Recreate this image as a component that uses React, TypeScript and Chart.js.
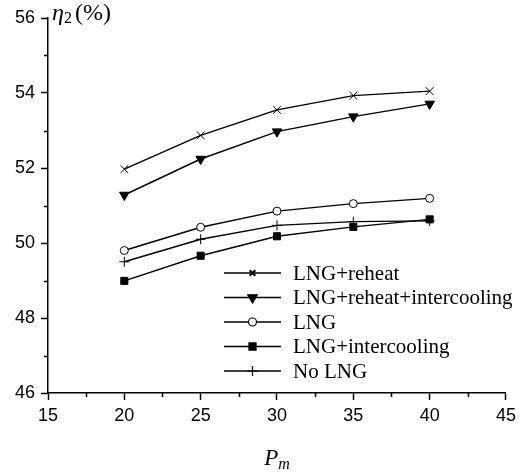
import { useEffect, useRef } from 'react';
import { Chart, registerables } from 'chart.js';
import { drawPoint } from 'chart.js/helpers';

Chart.register(...registerables);

const pressures = [20, 25, 30, 35, 40];
const lngReheat = [51.97, 52.87, 53.55, 53.93, 54.05];
const lngReheatIntercooling = [51.28, 52.24, 52.97, 53.37, 53.71];
const lngOnly = [49.8, 50.42, 50.85, 51.05, 51.19];
const lngIntercooling = [48.99, 49.66, 50.18, 50.43, 50.63];
const noLng = [49.5, 50.1, 50.47, 50.57, 50.59];
const seriesNames = ['LNG+reheat', 'LNG+reheat+intercooling', 'LNG', 'LNG+intercooling', 'No LNG'];
const xMinorTicks = [17.5, 22.5, 27.5, 32.5, 37.5, 42.5];
const yMinorTicks = [47, 49, 51, 53, 55];

const toPoints = (vals: number[]) => vals.map((y, i) => ({ x: pressures[i], y }));

const minorTicksPlugin = {
  id: 'minorTicks',
  afterDraw(chart: any) {
    const { ctx, chartArea, scales } = chart;
    ctx.save();
    ctx.strokeStyle = '#000';
    ctx.lineWidth = 1.5;
    ctx.beginPath();
    yMinorTicks.forEach((v) => {
      const py = Math.round(scales.y.getPixelForValue(v)) + 0.5;
      ctx.moveTo(chartArea.left - 4, py);
      ctx.lineTo(chartArea.left, py);
    });
    xMinorTicks.forEach((v) => {
      const px = Math.round(scales.x.getPixelForValue(v)) + 0.5;
      ctx.moveTo(px, chartArea.bottom);
      ctx.lineTo(px, chartArea.bottom + 4);
    });
    ctx.stroke();
    ctx.restore();
  },
};

const titlesPlugin = {
  id: 'titles',
  afterDraw(chart: any) {
    const { ctx, chartArea } = chart;
    ctx.save();
    ctx.fillStyle = '#000';
    ctx.textBaseline = 'alphabetic';
    ctx.textAlign = 'left';
    // y title
    let x = chartArea.left + 4;
    const yb = chartArea.top + 2;
    ctx.font = 'italic 24px "Liberation Serif"';
    ctx.fillText('η', x, yb);
    x += ctx.measureText('η').width;
    ctx.font = '16px "Liberation Serif"';
    ctx.fillText('2', x, yb + 3);
    x += ctx.measureText('2').width + 3;
    ctx.font = '24px "Liberation Serif"';
    ctx.fillText('(%)', x, yb);
    // x title
    const cx = (chartArea.left + chartArea.right) / 2;
    ctx.font = 'italic 23px "Liberation Serif"';
    const pw = ctx.measureText('P').width;
    ctx.font = 'italic 16px "Liberation Serif"';
    const mw = ctx.measureText('m').width;
    const startX = cx - (pw + mw) / 2;
    const xb = chartArea.bottom + 72;
    ctx.font = 'italic 23px "Liberation Serif"';
    ctx.fillText('P', startX, xb);
    ctx.font = 'italic 16px "Liberation Serif"';
    ctx.fillText('m', startX + pw, xb + 4);
    ctx.restore();
  },
};

const legendPlugin = {
  id: 'innerLegend',
  afterDraw(chart: any) {
    const { ctx, chartArea } = chart;
    ctx.save();
    const lineStart = chartArea.left + 176;
    const lineEnd = chartArea.left + 233;
    const textX = chartArea.left + 245;
    const firstY = chartArea.top + 255;
    const rowGap = 24.5;
    chart.data.datasets.forEach((ds: any, i: number) => {
      const y = firstY + i * rowGap;
      ctx.strokeStyle = '#000';
      ctx.lineWidth = 1.5;
      ctx.beginPath();
      ctx.moveTo(lineStart, y);
      ctx.lineTo(lineEnd, y);
      ctx.stroke();
      ctx.fillStyle = ds.pointBackgroundColor;
      ctx.strokeStyle = '#000';
      ctx.lineWidth = ds.legendBorder ?? 1.2;
      drawPoint(ctx, {
        pointStyle: ds.pointStyle,
        rotation: ds.pointRotation || 0,
        radius: ds.legendRadius,
        borderWidth: ds.legendBorder ?? 1.2,
      }, (lineStart + lineEnd) / 2, y);
      ctx.fillStyle = '#000';
      ctx.font = '21px "Liberation Serif"';
      ctx.textBaseline = 'middle';
      ctx.textAlign = 'left';
      ctx.fillText(ds.label, textX, y + 1);
    });
    ctx.restore();
  },
};

export default function App() {
  const canvasRef = useRef<HTMLCanvasElement | null>(null);

  useEffect(() => {
    if (!canvasRef.current) return;
    const common = {
      borderColor: '#000',
      borderWidth: 1.5,
      pointBorderColor: '#000',
      showLine: true,
    };
    const chart = new Chart(canvasRef.current, {
      type: 'scatter',
      data: {
        datasets: [
          {
            ...common,
            label: seriesNames[0],
            data: toPoints(lngReheat),
            pointStyle: 'crossRot',
            pointRadius: 5.5,
            pointBorderWidth: 1,
            pointBackgroundColor: '#000',
            legendRadius: 4,
            legendBorder: 2,
          },
          {
            ...common,
            label: seriesNames[1],
            data: toPoints(lngReheatIntercooling),
            pointStyle: 'triangle',
            pointRotation: 180,
            pointRadius: 5.5,
            pointBorderWidth: 1,
            pointBackgroundColor: '#000',
            legendRadius: 5.5,
          },
          {
            ...common,
            label: seriesNames[2],
            data: toPoints(lngOnly),
            pointStyle: 'circle',
            pointRadius: 4,
            pointBorderWidth: 1,
            pointBackgroundColor: '#fff',
            legendRadius: 4,
          },
          {
            ...common,
            label: seriesNames[3],
            data: toPoints(lngIntercooling),
            pointStyle: 'rect',
            pointRadius: 5,
            pointBorderWidth: 1,
            pointBackgroundColor: '#000',
            legendRadius: 5,
          },
          {
            ...common,
            label: seriesNames[4],
            data: toPoints(noLng),
            pointStyle: 'cross',
            pointRadius: 5,
            pointBorderWidth: 1,
            pointBackgroundColor: '#000',
            legendRadius: 5,
          },
        ] as any,
      },
      options: {
        animation: false,
        responsive: false,
        maintainAspectRatio: false,
        layout: { padding: { top: 18, right: 15, left: 0, bottom: 0 } },
        plugins: {
          legend: { display: false },
          tooltip: { enabled: false },
        },
        scales: {
          x: {
            type: 'linear',
            min: 15,
            max: 45,
            afterFit: (s: any) => { s.height = 83; },
            border: { display: true, color: '#000', width: 1.5 },
            grid: { drawOnChartArea: false, drawTicks: true, tickLength: 7, tickColor: '#000', tickWidth: 1.5 },
            ticks: { stepSize: 5, color: '#000', padding: 5, font: { family: '"Liberation Sans"', size: 18 } },
          },
          y: {
            type: 'linear',
            min: 46,
            max: 56,
            afterFit: (s: any) => { s.width = 48; },
            border: { display: true, color: '#000', width: 1.5 },
            grid: { drawOnChartArea: false, drawTicks: true, tickLength: 7, tickColor: '#000', tickWidth: 1.5 },
            ticks: { stepSize: 2, color: '#000', padding: 6, font: { family: '"Liberation Sans"', size: 18 } },
          },
        },
      } as any,
      plugins: [minorTicksPlugin, titlesPlugin, legendPlugin],
    });
    return () => chart.destroy();
  }, []);

  return (
    <div style={{ position: 'fixed', left: 0, top: 0, width: 521, height: 476, background: '#fff' }}>
      <canvas ref={canvasRef} width={521} height={476} style={{ display: 'block' }} />
    </div>
  );
}
